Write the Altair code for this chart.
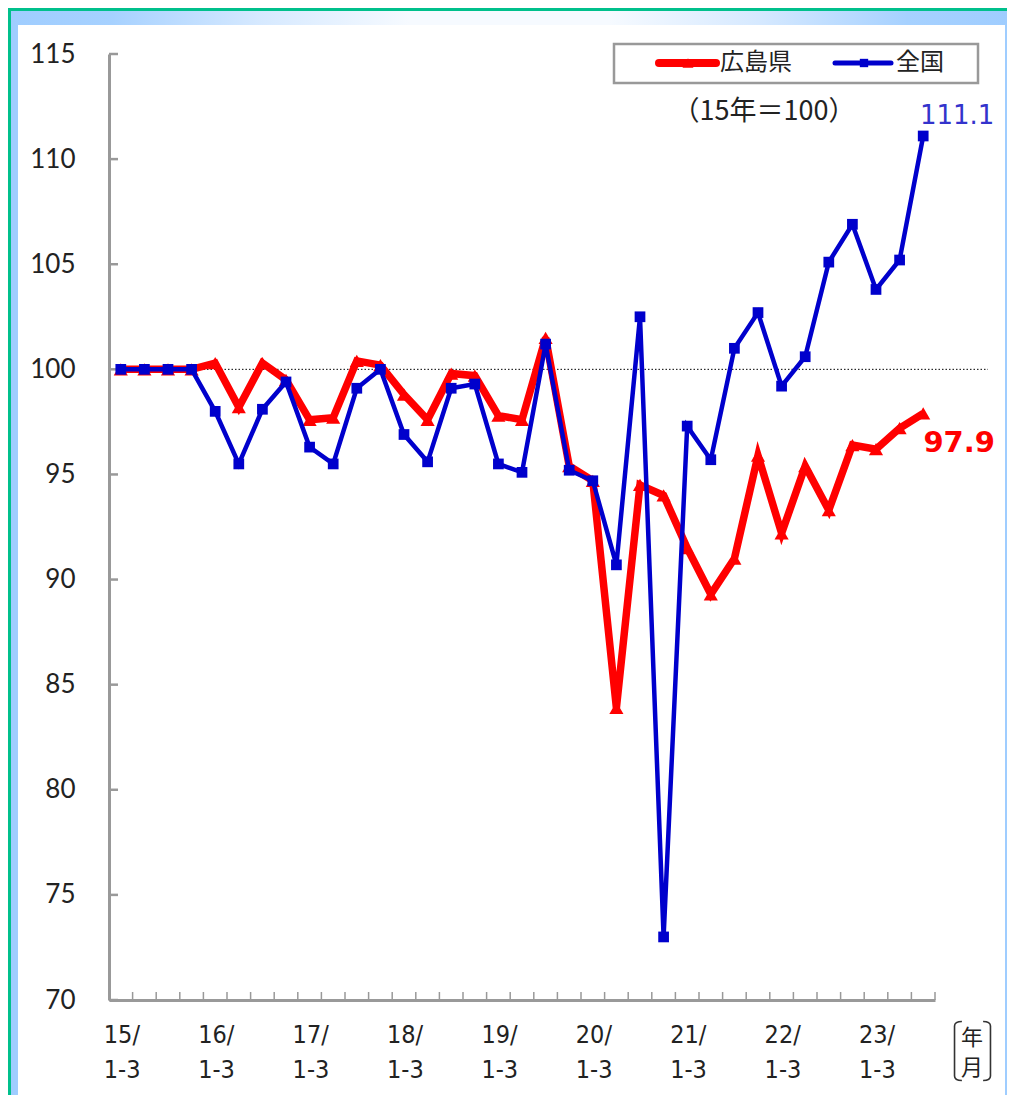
import altair as alt
import pandas as pd

# ---------------- data ----------------
years = ["15", "16", "17", "18", "19", "20", "21", "22", "23"]
quarters = ["1-3", "4-6", "7-9", "10-12"]
categories = [f"{y}/{q}" for y in years for q in quarters][:35]
year_ticks = [f"{y}/1-3" for y in years]
series_names = ["広島県", "全国"]
hiroshima = [100.0, 100.0, 100.0, 100.0, 100.3, 98.2, 100.3, 99.5, 97.6, 97.7,
             100.4, 100.2, 98.8, 97.6, 99.8, 99.7, 97.8, 97.6, 101.5, 95.4,
             94.7, 83.9, 94.5, 94.0, 91.5, 89.3, 91.0, 95.9, 92.2, 95.4,
             93.3, 96.4, 96.2, 97.2, 97.9]
zenkoku = [100.0, 100.0, 100.0, 100.0, 98.0, 95.5, 98.1, 99.4, 96.3, 95.5,
           99.1, 100.0, 96.9, 95.6, 99.1, 99.3, 95.5, 95.1, 101.2, 95.2,
           94.7, 90.7, 102.5, 73.0, 97.3, 95.7, 101.0, 102.7, 99.2, 100.6,
           105.1, 106.9, 103.8, 105.2, 111.1]
y_ticks = [70, 75, 80, 85, 90, 95, 100, 105, 110, 115]
base_value = [100]
base_note = "（15年＝100）"
unit_top, unit_bottom = "年", "月"

RED = "#ff0000"
BLUE = "#0000cc"
AXIS_GRAY = "#999999"

df = pd.DataFrame({
    "q": categories * 2,
    "series": [series_names[0]] * len(categories) + [series_names[1]] * len(categories),
    "value": hiroshima + zenkoku,
})
cat_df = pd.DataFrame({"q": categories})
last_df = pd.DataFrame({"q": [categories[-1]]})
tick_df = pd.DataFrame({"t": y_ticks})
base_df = pd.DataFrame({"b": base_value})
one = pd.DataFrame({"a": [0]})

W, H = 826, 946

xscale = alt.Scale(type="band", domain=categories, paddingInner=0, paddingOuter=0)
xaxis = alt.Axis(
    values=year_ticks,
    labelExpr="[split(datum.value, '/')[0] + '/', split(datum.value, '/')[1]]",
    ticks=False, grid=False, domainColor=AXIS_GRAY, domainWidth=3,
    labelFont="Liberation Sans Narrow, DejaVu Sans Condensed, sans-serif",
    labelFontSize=25, labelColor="#222222", labelPadding=22,
    labelLineHeight=35, labelAlign="left", labelOffset=-17, labelAngle=0,
    title=None, zindex=1,
)
yscale = alt.Scale(domain=[70, 115], nice=False, zero=False)
yaxis = alt.Axis(
    values=y_ticks, ticks=False, grid=False, domainColor=AXIS_GRAY, domainWidth=3,
    labelFont="Lato", labelFontSize=26, labelColor="#222222", labelPadding=34,
    title=None, zindex=1,
)


def X(field="q:O", **kw):
    return alt.X(field, scale=xscale, axis=xaxis, **kw)


def Y(field, **kw):
    return alt.Y(field, scale=yscale, axis=yaxis, **kw)


# ---------------- frame ----------------
frame_blue = alt.Chart(one).mark_rect(color="#9fcdff").encode(
    x=alt.value(-101), x2=alt.value(898), y=alt.value(-46), y2=alt.value(1041))
frame_green_top = alt.Chart(one).mark_rect(color="#00c08c").encode(
    x=alt.value(-101), x2=alt.value(898), y=alt.value(-46), y2=alt.value(-43))
frame_green_left = alt.Chart(one).mark_rect(color="#00c08c").encode(
    x=alt.value(-101), x2=alt.value(-98), y=alt.value(-46), y2=alt.value(1041))
grad = alt.LinearGradient(
    gradient="linear", x1=0, x2=1, y1=0, y2=0,
    stops=[
        alt.GradientStop(offset=0.0, color="#9fcdff"),
        alt.GradientStop(offset=0.1, color="#a6d1ff"),
        alt.GradientStop(offset=0.25, color="#d6e9ff"),
        alt.GradientStop(offset=0.4, color="#f6faff"),
        alt.GradientStop(offset=0.6, color="#f6faff"),
        alt.GradientStop(offset=0.75, color="#d6e9ff"),
        alt.GradientStop(offset=0.9, color="#a6d1ff"),
        alt.GradientStop(offset=1.0, color="#9fcdff"),
    ],
)
frame_top = alt.Chart(one).mark_rect(color=grad).encode(
    x=alt.value(-98), x2=alt.value(898), y=alt.value(-43), y2=alt.value(-29))
frame_white = alt.Chart(one).mark_rect(color="white").encode(
    x=alt.value(-91), x2=alt.value(896), y=alt.value(-29), y2=alt.value(1041))

# ---------------- axes decorations ----------------
y_tick_rules = alt.Chart(tick_df).mark_rule(color=AXIS_GRAY, strokeWidth=2.5).encode(
    y=Y("t:Q"), x=alt.value(0), x2=alt.value(9))
x_tick_rules = alt.Chart(cat_df).mark_rule(color=AXIS_GRAY, strokeWidth=1.5).encode(
    x=X(bandPosition=0), y=alt.value(H - 8), y2=alt.value(H))
x_tick_last = alt.Chart(last_df).mark_rule(color=AXIS_GRAY, strokeWidth=1.5).encode(
    x=X(bandPosition=1), y=alt.value(H - 8), y2=alt.value(H))
base_rule = alt.Chart(base_df).mark_rule(color="black", strokeWidth=1, strokeDash=[1.5, 2]).encode(
    y=Y("b:Q"), x=alt.value(0), x2=alt.value(879))

# ---------------- series ----------------
red = alt.Chart(df).transform_filter(alt.datum.series == series_names[0])
blue = alt.Chart(df).transform_filter(alt.datum.series == series_names[1])

red_line = red.mark_line(color=RED, strokeWidth=7.5, strokeJoin="miter").encode(x=X(), y=Y("value:Q"))
red_pts = red.mark_point(shape="triangle-up", filled=True, color=RED, size=200, opacity=1).encode(
    x=X(), y=Y("value:Q"))
blue_line = blue.mark_line(color=BLUE, strokeWidth=4.5, strokeJoin="miter").encode(x=X(), y=Y("value:Q"))
blue_pts = blue.mark_point(shape="square", filled=True, color=BLUE, size=115, opacity=1).encode(
    x=X(), y=Y("value:Q"))

red_label = red.transform_filter(alt.datum.q == categories[-1]).mark_text(
    color=RED, font="DejaVu Sans", fontWeight="bold", fontSize=29, dx=36, dy=30
).encode(x=X(), y=Y("value:Q"), text=alt.Text("value:Q", format=".1f"))
blue_label = blue.transform_filter(alt.datum.q == categories[-1]).mark_text(
    color="#3333cc", font="DejaVu Sans", fontSize=26, dx=34, dy=-20
).encode(x=X(), y=Y("value:Q"), text=alt.Text("value:Q", format=".1f"))

# ---------------- legend ----------------
JP = "Noto Sans CJK JP"
leg_box = alt.Chart(one).mark_rect(fill="white", stroke=AXIS_GRAY, strokeWidth=2.5).encode(
    x=alt.value(505), x2=alt.value(869), y=alt.value(-10), y2=alt.value(29))
leg_red_line = alt.Chart(one).mark_rule(color=RED, strokeWidth=8, strokeCap="round").encode(
    x=alt.value(550), x2=alt.value(607), y=alt.value(9))
leg_red_pt = alt.Chart(one).mark_point(shape="triangle-up", filled=True, color=RED, size=120, opacity=1).encode(
    x=alt.value(579), y=alt.value(9))
leg_red_txt = alt.Chart(one).mark_text(align="left", baseline="middle", font=JP, fontSize=24, color="#222222").encode(
    x=alt.value(611), y=alt.value(9), text=alt.value(series_names[0]))
leg_blue_line = alt.Chart(one).mark_rule(color=BLUE, strokeWidth=5, strokeCap="round").encode(
    x=alt.value(726), x2=alt.value(782), y=alt.value(9))
leg_blue_pt = alt.Chart(one).mark_point(shape="square", filled=True, color=BLUE, size=70, opacity=1).encode(
    x=alt.value(755), y=alt.value(9))
leg_blue_txt = alt.Chart(one).mark_text(align="left", baseline="middle", font=JP, fontSize=24, color="#222222").encode(
    x=alt.value(787), y=alt.value(9), text=alt.value(series_names[1]))
note_txt = alt.Chart(one).mark_text(align="center", baseline="middle", font=JP, fontSize=27, color="#222222").encode(
    x=alt.value(655), y=alt.value(58), text=alt.value(base_note))

# ---------------- unit (年/月) ----------------
unit_top_txt = alt.Chart(one).mark_text(align="center", baseline="middle", font=JP, fontSize=22, color="#222222").encode(
    x=alt.value(863), y=alt.value(984), text=alt.value(unit_top))
unit_bot_txt = alt.Chart(one).mark_text(align="center", baseline="middle", font=JP, fontSize=22, color="#222222").encode(
    x=alt.value(863), y=alt.value(1014), text=alt.value(unit_bottom))
lb_path = "M0.2,-1 Q-0.05,-1 -0.05,-0.85 L-0.05,0.85 Q-0.05,1 0.2,1"
rb_path = "M-0.2,-1 Q0.05,-1 0.05,-0.85 L0.05,0.85 Q0.05,1 -0.2,1"
lbrack = alt.Chart(one).mark_point(shape=lb_path, filled=False, color="#333333", strokeWidth=1.6, size=3481, opacity=1).encode(
    x=alt.value(847), y=alt.value(997))
rbrack = alt.Chart(one).mark_point(shape=rb_path, filled=False, color="#333333", strokeWidth=1.6, size=3481, opacity=1).encode(
    x=alt.value(880), y=alt.value(997))

chart = alt.layer(
    frame_blue, frame_green_top, frame_green_left, frame_top, frame_white,
    base_rule, y_tick_rules, x_tick_rules, x_tick_last,
    red_line, red_pts, blue_line, blue_pts, red_label, blue_label,
    leg_box, leg_red_line, leg_red_pt, leg_red_txt, leg_blue_line, leg_blue_pt, leg_blue_txt,
    note_txt, unit_top_txt, unit_bot_txt, lbrack, rbrack,
).properties(
    width=W, height=H, padding=0, background="white",
).configure_view(stroke=None)

chart.save("out.html", embed_options={"renderer": "svg", "actions": False})
